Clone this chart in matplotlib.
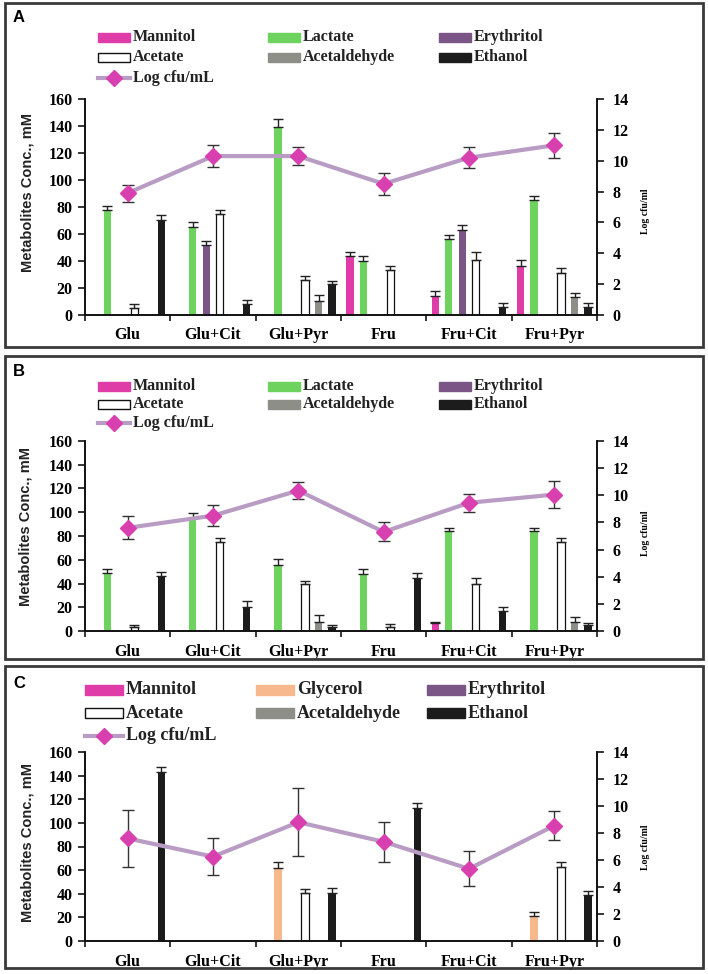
import numpy as np
import matplotlib
matplotlib.use("Agg")
import matplotlib.pyplot as plt
from matplotlib.patches import Rectangle
from matplotlib.lines import Line2D

W, H = 708, 974
fig = plt.figure(figsize=(W / 100, H / 100), dpi=100)

groups = ["Glu", "Glu+Cit", "Glu+Pyr", "Fru", "Fru+Cit", "Fru+Pyr"]
left_ticks = [0, 20, 40, 60, 80, 100, 120, 140, 160]
right_ticks = [0, 2, 4, 6, 8, 10, 12, 14]

# ---------------- Panel A ----------------
A_mannitol = [0, 0, 0, 44, 14, 36]
A_mannitol_err = [0, 0, 0, 3, 4, 5]
A_lactate = [78, 65, 139, 40, 56, 85]
A_lactate_err = [3, 4, 6, 4, 3, 3]
A_erythritol = [0, 52, 0, 0, 63, 0]
A_erythritol_err = [0, 3, 0, 0, 4, 0]
A_acetate = [5, 75, 26, 33, 41, 31]
A_acetate_err = [3, 3, 3, 3, 6, 4]
A_acetaldehyde = [0, 0, 10, 0, 0, 13]
A_acetaldehyde_err = [0, 0, 5, 0, 0, 3]
A_ethanol = [70, 8, 23, 0, 6, 6]
A_ethanol_err = [4, 3, 2, 0, 3, 3]
A_logcfu = [7.9, 10.3, 10.3, 8.5, 10.2, 11.0]
A_logcfu_err = [0.55, 0.7, 0.6, 0.7, 0.7, 0.8]

# ---------------- Panel B ----------------
B_mannitol = [0, 0, 0.6, 0, 7, 0]
B_mannitol_err = [0, 0, 0, 0, 1, 0]
B_lactate = [49, 95, 56, 48, 84, 84]
B_lactate_err = [3, 4, 5, 4.5, 3, 3]
B_erythritol = [0, 0, 0, 0, 0, 0]
B_erythritol_err = [0, 0, 0, 0, 0, 0]
B_acetate = [3, 75, 40, 3, 40, 75]
B_acetate_err = [2, 3, 2, 2.5, 4.5, 3]
B_acetaldehyde = [0, 0.6, 8, 0, 0, 8]
B_acetaldehyde_err = [0, 0, 5.5, 0, 0, 4]
B_ethanol = [46, 20, 3, 45, 17, 5]
B_ethanol_err = [4, 5, 2, 3.5, 3, 2]
B_logcfu = [7.6, 8.5, 10.35, 7.3, 9.45, 10.05]
B_logcfu_err = [0.85, 0.75, 0.6, 0.7, 0.65, 1.0]

# ---------------- Panel C ----------------
C_mannitol = [0, 0, 0, 0, 0, 0]
C_mannitol_err = [0, 0, 0, 0, 0, 0]
C_glycerol = [0, 0, 62, 0, 0, 21]
C_glycerol_err = [0, 0, 5, 0, 0, 3.4]
C_erythritol = [0, 0, 0, 0, 0, 0]
C_erythritol_err = [0, 0, 0, 0, 0, 0]
C_acetate = [0, 0, 41, 0, 0, 63]
C_acetate_err = [0, 0, 3, 0, 0, 4]
C_acetaldehyde = [0, 0, 0, 0, 0, 0]
C_acetaldehyde_err = [0, 0, 0, 0, 0, 0]
C_ethanol = [143, 0, 41, 113, 0, 39]
C_ethanol_err = [4, 0, 4, 3.6, 0, 3.5]
C_logcfu = [7.6, 6.25, 8.8, 7.35, 5.35, 8.55]
C_logcfu_err = [2.1, 1.35, 2.5, 1.5, 1.28, 1.05]

# ---------------- styles ----------------
COL_MAN = "#E03CA8"
COL_LAC = "#6DD35E"
COL_GLY = "#F7B88E"
COL_ERY = "#7B5585"
COL_ACE = "#FFFFFF"
COL_ALD = "#8E8E88"
COL_ETH = "#1C1C1C"
COL_LINE = "#B99CC4"
COL_DIAM = "#D83FAF"

SERIF = "Liberation Serif"
SANS = "Liberation Sans"

SLOT = 0.158
BW = 0.085


def fx(x):
    return x / W


def fy(y):
    return 1 - y / H


def draw_panel(top_px, bot_px, series, logv, loge, letter, letter_y,
               legend_rows, legend_cols, leg_size, patch_w, patch_h,
               box, ylab_x, ylab_y, rlab_y):
    left_px, right_px = 85, 597
    ax = fig.add_axes([fx(left_px), fy(bot_px), (right_px - left_px) / W,
                       (bot_px - top_px) / H])
    ax2 = ax.twinx()
    centers = np.arange(len(groups)) + 0.5
    for k, (vals, errs, color, edge) in enumerate(series):
        vals = np.asarray(vals, float)
        errs = np.asarray(errs, float)
        x = centers + (k - 2.5) * SLOT
        ax.bar(x, vals, width=BW, color=color, edgecolor=edge,
               linewidth=0.9 if edge != color else 0, zorder=2)
        m = (vals > 0) & (errs > 0)
        ax.errorbar(x[m], vals[m], yerr=[np.zeros(m.sum()), errs[m]],
                    fmt="none", ecolor="#222222", elinewidth=1.0,
                    capsize=3.5, capthick=1.0, zorder=3)
    ax.set_xlim(0, 6)
    ax.set_ylim(0, 160)
    ax.set_yticks(left_ticks)
    ax.set_xticks(range(7))
    ax.set_xticklabels([])
    ax.set_xticks(centers, minor=True)
    ax.set_xticklabels(groups, minor=True, fontfamily=SERIF,
                       fontweight="bold", fontsize=11.5)
    ax.tick_params(axis="x", which="minor", length=0, pad=9)
    ax.tick_params(axis="x", which="major", length=4, width=1.1,
                   direction="out")
    ax.tick_params(axis="y", length=5, width=1.1, direction="out", pad=4)
    for lab in ax.get_yticklabels():
        lab.set_fontfamily(SERIF)
        lab.set_fontweight("bold")
        lab.set_fontsize(11.5)

    ax2.errorbar(centers, logv, yerr=loge, color=COL_LINE, lw=3,
                 marker="D", ms=8, mfc=COL_DIAM, mec=COL_DIAM,
                 ecolor="#333333", elinewidth=1.0, capsize=4, capthick=1.0,
                 zorder=4)
    ax2.set_ylim(0, 14)
    ax2.set_yticks(right_ticks)
    ax2.tick_params(axis="y", length=5, width=1.1, direction="out", pad=6)
    for lab in ax2.get_yticklabels():
        lab.set_fontfamily(SERIF)
        lab.set_fontweight("bold")
        lab.set_fontsize(11.5)

    for a in (ax, ax2):
        a.spines["top"].set_visible(False)
        for s in ("left", "right", "bottom"):
            a.spines[s].set_linewidth(1.2)
            a.spines[s].set_color("#111111")
        a.patch.set_visible(False)

    # frame
    x0, y0, x1, y1 = box
    fig.patches.append(Rectangle((fx(x0), fy(y1)), (x1 - x0) / W,
                                 (y1 - y0) / H, transform=fig.transFigure,
                                 fill=False, edgecolor="#3a3a3a", lw=2.0))
    fig.text(fx(13), fy(letter_y), letter, fontfamily=SANS,
             fontweight="bold", fontsize=12, va="center", ha="left")
    fig.text(fx(ylab_x), fy(ylab_y), "Metabolites Conc., mM", rotation=90,
             fontfamily=SANS, fontweight="bold", fontsize=10.5,
             va="center", ha="center", color="#222222")
    fig.text(fx(645), fy(rlab_y), "Log cfu/ml", rotation=90,
             fontfamily=SERIF, fontweight="bold", fontsize=7,
             va="center", ha="center")

    # legend
    for r, row in enumerate(legend_rows):
        for c, entry in enumerate(row):
            if entry is None:
                continue
            label, kind, color = entry
            px = legend_cols[c]
            py = legend_rows_y[r]
            if kind == "line":
                fig.lines.append(Line2D([fx(px), fx(px + patch_w)],
                                        [fy(py), fy(py)],
                                        transform=fig.transFigure,
                                        color=COL_LINE, lw=3))
                fig.lines.append(Line2D([fx(px + patch_w / 2)], [fy(py)],
                                        transform=fig.transFigure,
                                        marker="D", ms=8, mfc=COL_DIAM,
                                        mec=COL_DIAM, lw=0))
            else:
                edge = "#111111" if color == COL_ACE else color
                fig.patches.append(Rectangle((fx(px), fy(py + patch_h / 2)),
                                             patch_w / W, patch_h / H,
                                             transform=fig.transFigure,
                                             facecolor=color, edgecolor=edge,
                                             lw=1.0))
            fig.text(fx(px + patch_w + 3), fy(py), label, fontfamily=SERIF,
                     fontweight="bold", fontsize=leg_size, va="center",
                     ha="left", color="#222222")


# Panel A
legend_rows_y = [37, 57, 78]
rowsA = [[("Mannitol", "bar", COL_MAN), ("Lactate", "bar", COL_LAC),
          ("Erythritol", "bar", COL_ERY)],
         [("Acetate", "bar", COL_ACE), ("Acetaldehyde", "bar", COL_ALD),
          ("Ethanol", "bar", COL_ETH)],
         [("Log cfu/mL", "line", None), None, None]]
draw_panel(99, 315,
           [(A_mannitol, A_mannitol_err, COL_MAN, COL_MAN),
            (A_lactate, A_lactate_err, COL_LAC, COL_LAC),
            (A_erythritol, A_erythritol_err, COL_ERY, COL_ERY),
            (A_acetate, A_acetate_err, COL_ACE, "#111111"),
            (A_acetaldehyde, A_acetaldehyde_err, COL_ALD, COL_ALD),
            (A_ethanol, A_ethanol_err, COL_ETH, COL_ETH)],
           A_logcfu, A_logcfu_err, "A", 17, rowsA, [98, 268, 439], 11.5,
           32, 9, (5, 3, 703, 347), 27, 192, 211)

# Panel B
legend_rows_y = [386, 404, 423]
draw_panel(441, 631,
           [(B_mannitol, B_mannitol_err, COL_MAN, COL_MAN),
            (B_lactate, B_lactate_err, COL_LAC, COL_LAC),
            (B_erythritol, B_erythritol_err, COL_ERY, COL_ERY),
            (B_acetate, B_acetate_err, COL_ACE, "#111111"),
            (B_acetaldehyde, B_acetaldehyde_err, COL_ALD, COL_ALD),
            (B_ethanol, B_ethanol_err, COL_ETH, COL_ETH)],
           B_logcfu, B_logcfu_err, "B", 372, rowsA, [98, 268, 439], 11.5,
           32, 9, (5, 356, 703, 659), 26, 527, 533)

# Panel C
legend_rows_y = [690, 713, 736]
rowsC = [[("Mannitol", "bar", COL_MAN), ("Glycerol", "bar", COL_GLY),
          ("Erythritol", "bar", COL_ERY)],
         [("Acetate", "bar", COL_ACE), ("Acetaldehyde", "bar", COL_ALD),
          ("Ethanol", "bar", COL_ETH)],
         [("Log cfu/mL", "line", None), None, None]]
draw_panel(752, 941,
           [(C_mannitol, C_mannitol_err, COL_MAN, COL_MAN),
            (C_glycerol, C_glycerol_err, COL_GLY, COL_GLY),
            (C_erythritol, C_erythritol_err, COL_ERY, COL_ERY),
            (C_acetate, C_acetate_err, COL_ACE, "#111111"),
            (C_acetaldehyde, C_acetaldehyde_err, COL_ALD, COL_ALD),
            (C_ethanol, C_ethanol_err, COL_ETH, COL_ETH)],
           C_logcfu, C_logcfu_err, "C", 684, rowsC, [85, 256, 427], 13,
           38, 10, (5, 666, 703, 968), 28, 842, 847)

fig.savefig("out.png", dpi=100, facecolor="white")
